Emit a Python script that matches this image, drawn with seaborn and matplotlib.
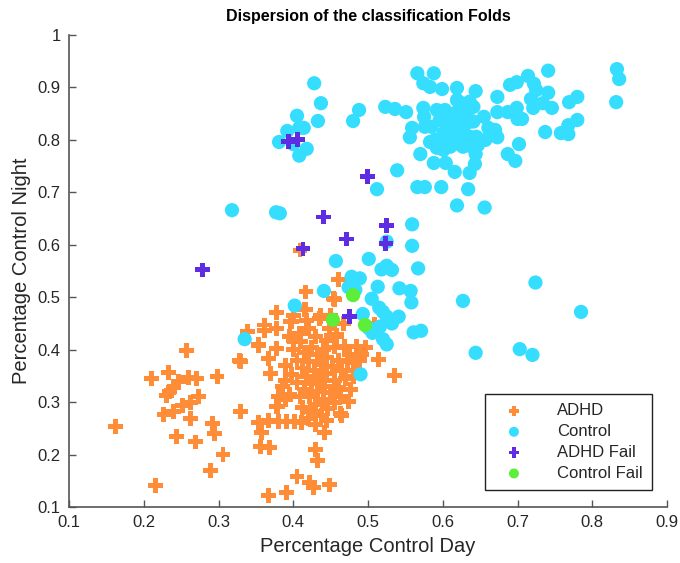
import matplotlib
matplotlib.use("Agg")
import matplotlib.pyplot as plt
import seaborn as sns
import pandas as pd

# ---------------- data ----------------
adhd_x = [0.162, 0.216, 0.210, 0.233, 0.257, 0.246, 0.240, 0.235, 0.230, 0.260, 0.271, 0.298,
          0.329, 0.273, 0.262, 0.252, 0.240, 0.227, 0.262, 0.244, 0.269, 0.292, 0.295, 0.306,
          0.289, 0.329, 0.353, 0.353, 0.367, 0.391, 0.405, 0.422, 0.427, 0.448, 0.430, 0.433,
          0.356, 0.368, 0.358, 0.367, 0.380, 0.391, 0.402, 0.411, 0.379, 0.442, 0.465, 0.474,
          0.461, 0.417, 0.455, 0.377, 0.415, 0.436, 0.398, 0.362, 0.378, 0.509, 0.467, 0.458,
          0.445, 0.400, 0.378, 0.367, 0.469, 0.485, 0.472, 0.489, 0.514, 0.536, 0.369, 0.389,
          0.378, 0.409, 0.463, 0.476, 0.480, 0.463, 0.454, 0.339, 0.396, 0.436, 0.416, 0.353,
          0.328, 0.489, 0.409, 0.361,
          0.420, 0.430, 0.410, 0.425, 0.440, 0.415, 0.432, 0.445, 0.405, 0.420, 0.438, 0.452,
          0.412, 0.428, 0.445, 0.398, 0.418, 0.435, 0.455, 0.405, 0.425, 0.442, 0.460, 0.415,
          0.432, 0.450, 0.395, 0.422, 0.440, 0.455, 0.430, 0.412, 0.446, 0.425, 0.438, 0.420,
          0.445, 0.430, 0.385, 0.390, 0.470, 0.465, 0.400, 0.390, 0.380, 0.460, 0.475, 0.480,
          0.485, 0.492, 0.497, 0.455, 0.448, 0.458, 0.408, 0.395, 0.418, 0.435, 0.450, 0.400]
adhd_y = [0.254, 0.141, 0.345, 0.356, 0.399, 0.339, 0.328, 0.320, 0.312, 0.347, 0.345, 0.348,
          0.378, 0.311, 0.299, 0.294, 0.282, 0.277, 0.268, 0.235, 0.224, 0.259, 0.240, 0.200,
          0.169, 0.282, 0.261, 0.409, 0.122, 0.127, 0.158, 0.146, 0.137, 0.142, 0.209, 0.188,
          0.215, 0.214, 0.242, 0.265, 0.263, 0.263, 0.263, 0.261, 0.291, 0.242, 0.275, 0.301,
          0.533, 0.510, 0.496, 0.471, 0.476, 0.466, 0.453, 0.447, 0.441, 0.449, 0.450, 0.428,
          0.418, 0.418, 0.402, 0.383, 0.406, 0.406, 0.377, 0.387, 0.381, 0.350, 0.355, 0.342,
          0.291, 0.311, 0.311, 0.324, 0.349, 0.278, 0.498, 0.435, 0.453, 0.464, 0.477, 0.407,
          0.380, 0.380, 0.590, 0.437,
          0.440, 0.425, 0.415, 0.405, 0.400, 0.395, 0.390, 0.385, 0.380, 0.378, 0.372, 0.368,
          0.365, 0.360, 0.355, 0.352, 0.348, 0.345, 0.342, 0.338, 0.335, 0.330, 0.328, 0.325,
          0.320, 0.318, 0.315, 0.310, 0.305, 0.300, 0.295, 0.290, 0.288, 0.282, 0.275, 0.268,
          0.265, 0.258, 0.330, 0.305, 0.345, 0.360, 0.400, 0.370, 0.310, 0.380, 0.390, 0.375,
          0.360, 0.390, 0.405, 0.405, 0.440, 0.425, 0.430, 0.425, 0.455, 0.460, 0.465, 0.465]

control_x = [0.428, 0.437, 0.405, 0.433, 0.392, 0.408, 0.414, 0.381, 0.400, 0.418, 0.408, 0.488,
             0.480, 0.523, 0.536, 0.551, 0.539, 0.512,
             0.566, 0.588, 0.574, 0.583, 0.599, 0.619, 0.644, 0.673, 0.690, 0.699, 0.714, 0.722,
             0.725, 0.741, 0.741, 0.718, 0.734, 0.746, 0.721, 0.769, 0.780, 0.780, 0.768, 0.768,
             0.758, 0.737, 0.833, 0.836, 0.832, 0.673, 0.687, 0.699, 0.700, 0.706, 0.655, 0.661,
             0.670, 0.673, 0.702, 0.687, 0.697, 0.657, 0.647, 0.644, 0.643, 0.636, 0.634, 0.616,
             0.604, 0.588, 0.570, 0.598, 0.566, 0.576, 0.556, 0.559, 0.574, 0.575, 0.576, 0.583,
             0.592,
             0.592, 0.603, 0.619, 0.625, 0.636, 0.641, 0.605, 0.614, 0.623, 0.632, 0.641, 0.601,
             0.610, 0.619, 0.627, 0.636, 0.627, 0.619, 0.610, 0.601, 0.590, 0.596, 0.585, 0.623,
             0.632, 0.616, 0.607, 0.639, 0.645, 0.627,
             0.619, 0.656, 0.377, 0.382, 0.318, 0.559, 0.559, 0.525, 0.457, 0.501, 0.518, 0.525,
             0.532, 0.567, 0.478, 0.489, 0.474, 0.483, 0.441, 0.513, 0.542, 0.557, 0.558, 0.505,
             0.402, 0.515, 0.520, 0.525, 0.541, 0.532, 0.493, 0.501, 0.506, 0.516, 0.520, 0.525,
             0.561, 0.571, 0.627, 0.724, 0.785, 0.644, 0.703, 0.720, 0.335, 0.490]
control_y = [0.908, 0.870, 0.846, 0.836, 0.817, 0.823, 0.823, 0.796, 0.792, 0.783, 0.770, 0.857,
             0.836, 0.863, 0.859, 0.853, 0.742, 0.706,
             0.927, 0.927, 0.908, 0.901, 0.897, 0.899, 0.893, 0.882, 0.905, 0.910, 0.922, 0.907,
             0.895, 0.932, 0.890, 0.878, 0.870, 0.861, 0.861, 0.872, 0.882, 0.838, 0.828, 0.811,
             0.813, 0.815, 0.935, 0.916, 0.872, 0.853, 0.853, 0.861, 0.840, 0.840, 0.844, 0.823,
             0.819, 0.805, 0.792, 0.773, 0.760, 0.800, 0.790, 0.773, 0.754, 0.737, 0.706, 0.739,
             0.756, 0.756, 0.773, 0.710, 0.710, 0.710, 0.805, 0.823, 0.861, 0.844, 0.825, 0.796,
             0.785,
             0.857, 0.857, 0.876, 0.870, 0.873, 0.863, 0.838, 0.832, 0.844, 0.851, 0.835, 0.813,
             0.819, 0.809, 0.819, 0.806, 0.787, 0.793, 0.787, 0.781, 0.800, 0.838, 0.825, 0.863,
             0.832, 0.851, 0.800, 0.787, 0.806, 0.800,
             0.675, 0.671, 0.662, 0.660, 0.666, 0.639, 0.598, 0.606, 0.569, 0.573, 0.553, 0.560,
             0.552, 0.555, 0.539, 0.536, 0.519, 0.514, 0.512, 0.520, 0.517, 0.512, 0.490, 0.497,
             0.484, 0.480, 0.472, 0.463, 0.463, 0.450, 0.468, 0.441, 0.432, 0.444, 0.420, 0.410,
             0.433, 0.436, 0.493, 0.528, 0.472, 0.394, 0.401, 0.390, 0.420, 0.353]

adhd_fail_x = [0.394, 0.406, 0.499, 0.440, 0.471, 0.525, 0.524, 0.413, 0.475, 0.278]
adhd_fail_y = [0.797, 0.801, 0.731, 0.653, 0.611, 0.637, 0.603, 0.592, 0.464, 0.552]

control_fail_x = [0.453, 0.480, 0.496]
control_fail_y = [0.457, 0.504, 0.447]

group_names = ["ADHD", "Control", "ADHD Fail", "Control Fail"]
x_ticks = [0.1, 0.2, 0.3, 0.4, 0.5, 0.6, 0.7, 0.8, 0.9]
y_ticks = [0.1, 0.2, 0.3, 0.4, 0.5, 0.6, 0.7, 0.8, 0.9, 1.0]
x_tick_labels = ["0.1", "0.2", "0.3", "0.4", "0.5", "0.6", "0.7", "0.8", "0.9"]
y_tick_labels = ["0.1", "0.2", "0.3", "0.4", "0.5", "0.6", "0.7", "0.8", "0.9", "1"]

# ---------------- build frame ----------------
df = pd.concat([
    pd.DataFrame({"x": adhd_x, "y": adhd_y, "group": "ADHD"}),
    pd.DataFrame({"x": control_x, "y": control_y, "group": "Control"}),
    pd.DataFrame({"x": adhd_fail_x, "y": adhd_fail_y, "group": "ADHD Fail"}),
    pd.DataFrame({"x": control_fail_x, "y": control_fail_y, "group": "Control Fail"}),
], ignore_index=True)

colors = {"ADHD": "#FF8C37", "Control": "#35DDFF", "ADHD Fail": "#5E2CE3", "Control Fail": "#5CEE38"}
markers = {"ADHD": "P", "Control": "o", "ADHD Fail": "P", "Control Fail": "o"}
sizes = {"ADHD": 115, "Control": 105, "ADHD Fail": 115, "Control Fail": 105}

sns.set_theme(style="white")
plt.rcParams["font.family"] = ["Liberation Sans", "DejaVu Sans"]

fig = plt.figure(figsize=(6.8, 5.63), dpi=100)
ax = fig.add_axes([0.1015, 0.0995, 0.8794, 0.8383])

for g in group_names:
    sub = df[df["group"] == g]
    sns.scatterplot(data=sub, x="x", y="y", ax=ax, color=colors[g], marker=markers[g],
                    s=sizes[g], linewidth=0, edgecolor="none", label=g, zorder=3)

ax.set_xlim(0.1, 0.9)
ax.set_ylim(0.1, 1.0)
ax.set_xticks(x_ticks)
ax.set_xticklabels(x_tick_labels)
ax.set_yticks(y_ticks)
ax.set_yticklabels(y_tick_labels)

spine_col = "#555555"
for side in ["top", "right"]:
    ax.spines[side].set_visible(False)
for side in ["left", "bottom"]:
    ax.spines[side].set_color(spine_col)
    ax.spines[side].set_linewidth(1.2)
ax.tick_params(axis="both", direction="in", length=5, width=1.0, color=spine_col,
               labelsize=12, labelcolor="#262626", pad=6, left=True, bottom=True)

ax.set_xlabel("Percentage Control Day", fontsize=14.5, color="#262626", labelpad=5)
ax.set_ylabel("Percentage Control Night", fontsize=14.5, color="#262626", labelpad=5)
ax.set_title("Dispersion of the classification Folds", fontsize=11.5, fontweight="bold",
             color="black", pad=10)

leg = ax.legend(loc="lower right", bbox_to_anchor=(0.975, 0.036), frameon=True, fancybox=False,
                fontsize=12, borderpad=0.55, labelspacing=0.35, handletextpad=1.4,
                borderaxespad=0, markerscale=0.7, handlelength=2.4)
leg.get_frame().set_edgecolor("#222222")
leg.get_frame().set_linewidth(1.0)
leg.get_frame().set_facecolor("white")
leg.get_frame().set_alpha(1)
for t in leg.get_texts():
    t.set_color("#262626")

ax.grid(False)
fig.savefig("out.png", dpi=100)
